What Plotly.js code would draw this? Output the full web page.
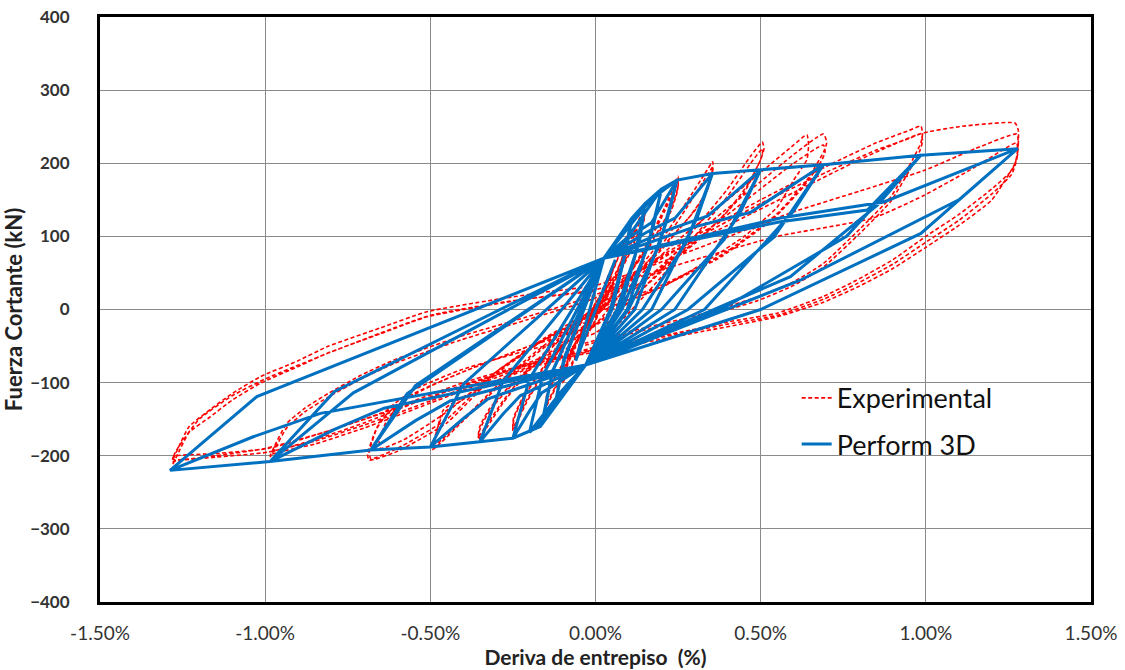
<!DOCTYPE html>
<html>
<head>
<meta charset="utf-8">
<script src="https://cdn.plot.ly/plotly-3.0.1.min.js"></script>
<style>html,body{margin:0;padding:0;background:#fff}#chart{width:1125px;height:670px}</style>
</head>
<body>
<div id="chart"></div>
<script>
// ---- Experimental (drift %, shear kN) per amplitude level ----
const exp005 = [[0,0],[0.03,35],[0.05,55],[0.045,40],[0,-5],[-0.03,-35],[-0.05,-55],[-0.045,-42],[0,3],[0.03,37],[0.05,57],[0.045,41],[0,-4],[-0.03,-36],[-0.05,-56],[-0.045,-41],[0,2]];
const exp010 = [[0.04,40],[0.08,85],[0.10,105],[0.095,90],[0.06,45],[0,-15],[-0.05,-55],[-0.08,-85],[-0.10,-100],[-0.095,-88],[-0.06,-50],[0,8],[0.05,50],[0.08,84],[0.10,103],[0.095,88],[0.06,44],[0,-14],[-0.05,-54],[-0.10,-98],[-0.095,-86],[-0.06,-48],[0,9]];
const exp015 = [[0.05,40],[0.10,88],[0.15,142],[0.148,127],[0.12,95],[0.07,50],[0,0],[-0.05,-35],[-0.1,-85],[-0.15,-130],[-0.148,-118],[-0.12,-90],[-0.06,-45],[0,-5],[0.05,30],[0.1,82],[0.15,136],[0.147,122],[0.12,92],[0.07,48],[0,-2],[-0.05,-37],[-0.1,-87],[-0.15,-133],[-0.148,-120],[-0.12,-92],[-0.06,-47],[0,-7]];
const exp025 = [[0.08,35],[0.15,85],[0.21,140],[0.25,182],[0.25,168],[0.23,140],[0.18,100],[0.1,50],[0,5],[-0.08,-35],[-0.15,-80],[-0.21,-125],[-0.25,-162],[-0.248,-148],[-0.22,-120],[-0.16,-80],[-0.08,-40],[0,-8],[0.08,33],[0.15,82],[0.21,135],[0.25,175],[0.248,162],[0.23,136],[0.18,97],[0.1,48],[0,3],[-0.08,-37],[-0.15,-82],[-0.21,-128],[-0.25,-166],[-0.247,-150],[-0.22,-122],[-0.16,-82],[-0.08,-42],[0,-10]];
const exp035 = [[0.1,40],[0.2,95],[0.28,150],[0.33,185],[0.355,202],[0.355,190],[0.34,165],[0.3,135],[0.2,85],[0.1,40],[0,5],[-0.1,-35],[-0.2,-80],[-0.28,-125],[-0.33,-158],[-0.355,-174],[-0.35,-160],[-0.32,-135],[-0.25,-100],[-0.15,-62],[0,-20],[0.1,35],[0.2,88],[0.28,142],[0.33,178],[0.355,195],[0.35,182],[0.335,160],[0.29,130],[0.2,82],[0.1,37],[0,2],[-0.1,-38],[-0.2,-83],[-0.28,-128],[-0.33,-162],[-0.355,-178],[-0.35,-164],[-0.32,-138],[-0.25,-102],[-0.15,-64],[0,-22]];
const exp050 = [[0.1,10],[0.2,55],[0.3,110],[0.4,165],[0.47,210],[0.505,229],[0.51,220],[0.5,205],[0.46,170],[0.4,135],[0.3,90],[0.15,40],[0,0],[-0.1,-30],[-0.2,-65],[-0.3,-105],[-0.4,-150],[-0.47,-180],[-0.49,-188],[-0.485,-175],[-0.46,-137],[-0.36,-110],[-0.2,-78],[0,-50],[0.1,-5],[0.2,45],[0.3,100],[0.4,155],[0.47,200],[0.505,220],[0.505,212],[0.49,195],[0.45,160],[0.38,125],[0.28,85],[0.14,38],[0,-2],[-0.1,-33],[-0.2,-68],[-0.3,-108],[-0.4,-152],[-0.47,-183],[-0.495,-192],[-0.49,-180],[-0.46,-142],[-0.36,-112],[-0.2,-80],[0,-52]];
const exp065 = [[0.1,30],[0.25,95],[0.4,150],[0.52,195],[0.6,225],[0.64,239],[0.645,225],[0.64,205],[0.6,177],[0.55,140],[0.45,100],[0.35,70],[0.2,30],[0,-5],[-0.15,-40],[-0.3,-85],[-0.45,-140],[-0.58,-178],[-0.65,-190],[-0.655,-180],[-0.63,-150],[-0.58,-125],[-0.5,-105],[-0.4,-85],[-0.2,-50],[0,-20]];
const exp070 = [[0.1,20],[0.2,60],[0.35,120],[0.5,175],[0.6,212],[0.69,240],[0.70,228],[0.69,215],[0.64,177],[0.55,131],[0.39,77],[0.19,31],[0,0],[-0.15,-38],[-0.3,-85],[-0.45,-150],[-0.6,-190],[-0.68,-204],[-0.685,-195],[-0.66,-160],[-0.63,-137],[-0.55,-110],[-0.41,-83],[-0.2,-55],[0,-32],[0.1,10],[0.2,52],[0.35,112],[0.5,165],[0.6,200],[0.69,225],[0.695,215],[0.68,200],[0.63,168],[0.54,125],[0.38,72],[0.18,27],[0,-4],[-0.15,-40],[-0.3,-88],[-0.45,-155],[-0.6,-194],[-0.685,-206],[-0.69,-198],[-0.665,-165],[-0.63,-142],[-0.55,-115],[-0.41,-87],[-0.2,-50],[0,-10]];
const exp100 = [[0.1,45],[0.3,100],[0.5,150],[0.7,196],[0.85,228],[0.95,245],[0.985,251],[0.99,240],[0.985,228],[0.96,205],[0.894,154],[0.8,110],[0.69,63],[0.6,38],[0.49,17],[0.29,-10],[0.15,-25],[0,-42],[-0.1,-55],[-0.3,-90],[-0.5,-125],[-0.7,-158],[-0.85,-180],[-0.98,-195],[-0.985,-200],[-0.97,-185],[-0.935,-156],[-0.88,-135],[-0.81,-115],[-0.71,-90],[-0.61,-69],[-0.41,-37],[-0.207,-10],[0,20],[0.1,43],[0.3,96],[0.5,145],[0.7,188],[0.85,218],[0.95,234],[0.985,240],[0.99,230],[0.98,215],[0.95,190],[0.894,148],[0.8,104],[0.69,58],[0.6,33],[0.49,12],[0.29,-14],[0.15,-28],[0,-45],[-0.1,-58],[-0.3,-93],[-0.5,-128],[-0.7,-162],[-0.85,-184],[-0.98,-198],[-0.985,-202],[-0.97,-190],[-0.935,-162],[-0.88,-140],[-0.81,-120],[-0.71,-95],[-0.61,-74],[-0.41,-42],[-0.207,-14],[0,16]];
const exp128 = [[0.2,72],[0.4,115],[0.6,160],[0.8,205],[0.98,240],[1.1,250],[1.27,255],[1.28,245],[1.277,210],[1.26,190],[1.2,165],[1.1,130],[1.0,100],[0.9,68],[0.79,40],[0.69,18],[0.55,-5],[0.4,-17],[0.29,-28],[0.15,-40],[0,-52],[-0.1,-62],[-0.25,-80],[-0.4,-100],[-0.55,-125],[-0.7,-150],[-0.85,-172],[-0.99,-190],[-1.15,-197],[-1.278,-201],[-1.28,-206],[-1.262,-188],[-1.23,-160],[-1.167,-137],[-1.1,-115],[-1.015,-92],[-0.9,-70],[-0.813,-51],[-0.65,-25],[-0.51,-3],[-0.31,13],[-0.15,24],[0,33],[0.3,82],[0.59,132],[0.8,162],[0.994,190],[1.15,220],[1.275,240],[1.28,228],[1.275,205],[1.26,185],[1.2,158],[1.1,122],[1.0,92],[0.9,62],[0.79,35],[0.69,14],[0.55,-8],[0.4,-20],[0.29,-30],[0.15,-42],[0,-55],[-0.1,-64],[-0.25,-82],[-0.4,-103],[-0.55,-128],[-0.7,-155],[-0.85,-178],[-0.99,-195],[-1.15,-202],[-1.278,-208],[-1.28,-212],[-1.262,-195],[-1.23,-168],[-1.167,-147],[-1.1,-124],[-1.015,-101],[-0.9,-78],[-0.813,-60],[-0.65,-33],[-0.51,-10],[-0.31,7],[-0.15,18],[0,27],[0.3,68],[0.55,100],[0.84,125],[0.994,156],[1.15,195],[1.275,228],[1.277,215],[1.27,200],[1.2,150],[1.1,115],[1.0,85],[0.9,56],[0.79,30],[0.69,10],[0.55,-10],[0.3,-32],[0,-58],[-0.2,-75],[-0.5,-120],[-0.8,-165],[-1.0,-190],[-1.15,-200],[-1.28,-205],[-1.265,-190],[-1.2,-150],[-1.1,-118],[-1.0,-95],[-0.8,-58],[-0.5,-8],[-0.25,12],[0,25]];

// ---- Perform 3D model (drift %, shear kN) per amplitude level ----
const p3d005 = [[0,0],[0.06,68],[-0.06,-70],[0.06,68],[-0.06,-70],[0.025,70]];
const p3d010 = [[0.09,112],[0.11,125],[0.085,70],[0.045,0],[-0.03,-76],[-0.09,-105],[-0.12,-125],[-0.095,-70],[0.025,70],[0.11,124],[0.092,80],[0.05,0],[-0.03,-76],[-0.12,-124],[-0.096,-68],[0.025,70]];
const p3d015 = [[0.11,125],[0.15,145],[0.12,75],[0.065,0],[-0.03,-76],[-0.12,-125],[-0.16,-152],[-0.13,-85],[0.025,70],[0.15,144],[0.135,98],[0.075,0],[-0.03,-76],[-0.16,-150],[-0.13,-84],[0.025,70]];
const p3d020 = [[0.15,145],[0.20,165],[0.156,83],[0.08,0],[-0.03,-76],[-0.16,-152],[-0.20,-168],[-0.16,-91],[0.025,70],[0.10,100],[0.20,165],[0.174,112],[0.096,0],[-0.03,-76],[-0.10,-110],[-0.20,-168],[-0.16,-91],[0.025,70]];
const p3d025 = [[0.167,150],[0.20,165],[0.247,177],[0.193,88],[0.10,0],[-0.03,-76],[-0.167,-160],[-0.25,-176],[-0.20,-95],[0.025,70],[0.11,101],[0.17,119],[0.247,177],[0.215,120],[0.119,0],[-0.03,-76],[-0.163,-114],[-0.20,-139],[-0.25,-176],[-0.20,-95],[0.025,70]];
const p3d035 = [[0.167,150],[0.247,177],[0.354,186],[0.276,93],[0.142,0],[-0.03,-76],[-0.167,-160],[-0.25,-176],[-0.35,-181],[-0.28,-98],[0.025,70],[0.156,106],[0.241,125],[0.354,186],[0.308,126],[0.17,0],[-0.03,-76],[-0.228,-118],[-0.28,-143],[-0.35,-181],[-0.28,-98],[0.025,70]];
const p3d050 = [[0.167,150],[0.247,177],[0.354,186],[0.50,191],[0.39,96],[0.20,0],[-0.03,-76],[-0.167,-160],[-0.25,-176],[-0.35,-181],[-0.50,-188],[-0.40,-102],[0.025,70],[0.22,109],[0.34,128],[0.50,191],[0.435,130],[0.24,0],[-0.03,-76],[-0.325,-122],[-0.40,-149],[-0.50,-188],[-0.40,-102],[0.025,70]];
const p3d070 = [[0.167,150],[0.247,177],[0.354,186],[0.50,191],[0.69,198],[0.54,99],[0.28,0],[-0.03,-76],[-0.167,-160],[-0.25,-176],[-0.35,-181],[-0.50,-188],[-0.68,-192],[-0.57,-115],[0.025,70],[0.30,113],[0.47,133],[0.69,198],[0.60,135],[0.33,0],[-0.03,-76],[-0.44,-125],[-0.545,-152],[-0.68,-192],[-0.545,-104],[0.025,70]];
const p3d100 = [[0.167,150],[0.247,177],[0.354,186],[0.50,191],[0.69,198],[0.985,211],[0.854,143],[0.59,45],[-0.03,-76],[-0.167,-160],[-0.25,-176],[-0.35,-181],[-0.50,-188],[-0.68,-192],[-0.985,-208],[-0.733,-114],[0.025,70],[0.56,120],[0.823,136],[0.985,211],[0.76,100],[0.38,0],[-0.03,-76],[-0.64,-135],[-0.79,-164],[-0.985,-208],[-0.79,-112],[0.025,70]];
const p3d128 = [[0.167,150],[0.247,177],[0.354,186],[0.50,191],[0.69,198],[0.985,211],[1.278,220],[0.985,104],[0.50,0],[-0.03,-76],[-0.167,-160],[-0.25,-176],[-0.35,-181],[-0.50,-188],[-0.68,-192],[-0.985,-208],[-1.288,-220],[-1.025,-119],[0.025,70],[0.56,125],[0.873,147],[1.278,220],[1.10,150],[0.62,40],[-0.03,-76],[-0.833,-142],[-1.036,-174],[-1.288,-220],[-1.025,-119],[0.025,70]];

// ---- Axis ticks ----
const xTickVals = [-1.5,-1.0,-0.5,0,0.5,1.0,1.5];
const xTickText = ['-1.50%','-1.00%','-0.50%','0.00%','0.50%','1.00%','1.50%'];
const yTickVals = [-400,-300,-200,-100,0,100,200,300,400];

const expLevels = [exp005,exp010,exp015,exp025,exp035,exp050,exp065,exp070,exp100,exp128];
const p3dLevels = [p3d005,p3d010,p3d015,p3d020,p3d025,p3d035,p3d050,p3d070,p3d100,p3d128];
const expPts = [].concat(...expLevels);
const p3dPts = [].concat(...p3dLevels);

const FONT = 'Lato, "Open Sans", sans-serif';
const traces = [
  {x: expPts.map(p=>p[0]), y: expPts.map(p=>p[1]), type:'scatter', mode:'lines', name:'Experimental', legendgroup:'a',
   line:{color:'rgb(255,0,0)', width:1.6, dash:'4px,2.5px', shape:'spline', smoothing:0.5}},
  {x: p3dPts.map(p=>p[0]), y: p3dPts.map(p=>p[1]), type:'scatter', mode:'lines', name:'Perform 3D', legendgroup:'b',
   line:{color:'rgb(0,112,192)', width:3}}
];

const layout = {
  width:1125, height:670,
  margin:{l:100, r:34, t:17, b:68},
  paper_bgcolor:'#fff', plot_bgcolor:'#fff',
  showlegend:true,
  legend:{x:0.703, y:0.39, xanchor:'left', yanchor:'top', bgcolor:'rgba(0,0,0,0)',
    font:{family:FONT, size:27, color:'#111'}, tracegroupgap:8, itemwidth:30},
  xaxis:{range:[-1.5,1.5], tickvals:xTickVals, ticktext:xTickText, showgrid:true, gridcolor:'#8a8a8a', gridwidth:1,
    zeroline:false, showline:true, mirror:true, linecolor:'#000', linewidth:3, ticks:'',
    ticklabelstandoff:12,
    tickfont:{family:FONT, size:19, color:'#333'},
    title:{text:'Deriva de entrepiso\u00a0 (%)', standoff:6, font:{family:FONT, size:21, color:'#222', weight:'bold'}}},
  yaxis:{range:[-400,400], tickvals:yTickVals, showgrid:true, gridcolor:'#8a8a8a', gridwidth:1,
    zeroline:false, showline:true, mirror:true, linecolor:'#000', linewidth:3, ticks:'',
    ticklabelstandoff:24,
    tickfont:{family:FONT, size:17, color:'#333', weight:'bold'},
    title:{text:'Fuerza Cortante (kN)', standoff:6, font:{family:FONT, size:22, color:'#222', weight:'bold'}}}
};

Plotly.newPlot('chart', traces, layout, {displayModeBar:false, staticPlot:true});
</script>
</body>
</html>
